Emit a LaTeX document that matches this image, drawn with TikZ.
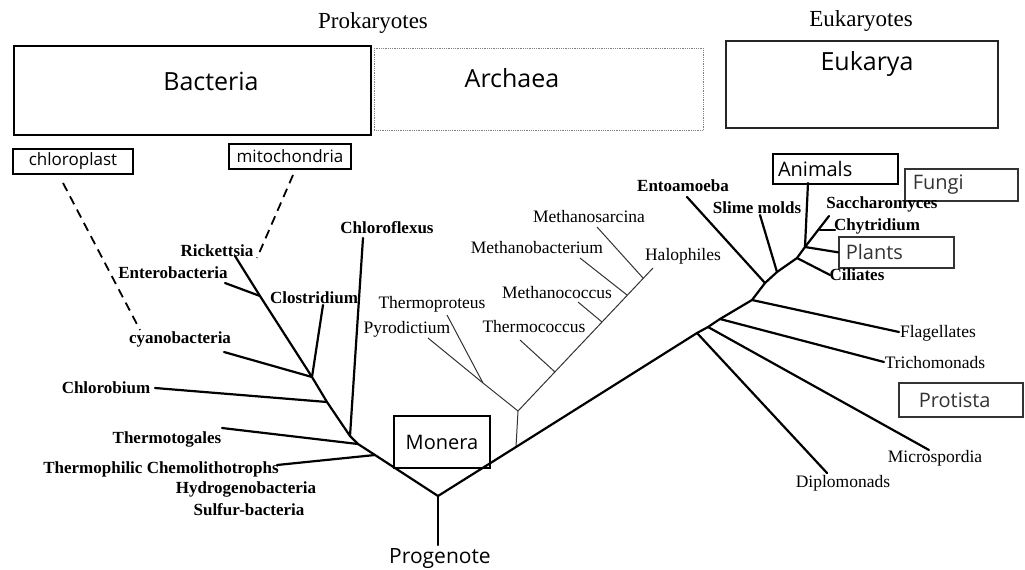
\documentclass[tikz,border=0pt]{standalone}
\usepackage{fontspec}
\setmainfont{Liberation Serif}
\setsansfont{Open Sans}
\usepackage{tikz}

\begin{document}
\begin{tikzpicture}[x=1pt, y=-1pt,
    branch/.style={line width=2.2pt, line cap=round},
    thinbranch/.style={line width=1pt, black!80},
    endo/.style={line width=1.8pt, dash pattern=on 9pt off 6pt},
    boldlabel/.style={font=\fontsize{17}{19}\selectfont\bfseries, anchor=base, inner sep=0pt},
    plainlabel/.style={font=\fontsize{17.5}{19}\selectfont, anchor=base, inner sep=0pt},
    domainbox/.style={draw, anchor=north west, inner sep=0pt},
    domainname/.style={font=\sffamily\fontsize{25}{28}\selectfont, anchor=base, inner sep=0pt},
    taxbox/.style={draw, line width=1.6pt, anchor=north west, inner ysep=0pt, align=left,
        font=\sffamily\fontsize{20}{22}\selectfont}]
    \useasboundingbox (0,0) rectangle (1025,570);

    % Domains
    \node[plainlabel, font=\fontsize{23}{26}\selectfont] (prok) at (373,28) {Prokaryotes};
    \node[plainlabel, font=\fontsize{23}{26}\selectfont] (euk) at (861,26) {Eukaryotes};
    \node[domainbox, line width=2.4pt, minimum width=357pt, minimum height=89pt] (bacteria) at (13,45) {};
    \node[domainbox, line width=0.8pt, gray, densely dotted, minimum width=329pt, minimum height=82pt] (archaea) at (374,48) {};
    \node[domainbox, line width=1.6pt, black!85, minimum width=272pt, minimum height=87pt] (eukarya) at (725,40) {};
    \node[domainname] (bacterianame) at (211,90) {Bacteria};
    \node[domainname] (archaeaname) at (512,87) {Archaea};
    \node[domainname] (eukaryaname) at (867,70) {Eukarya};

    % Endosymbionts
    \node[taxbox, line width=2pt, align=center, inner xsep=0pt, minimum width=120pt, minimum height=25pt,
        font=\sffamily\fontsize{17}{19}\selectfont] (chloroplast) at (12,148) {chloroplast};
    \node[taxbox, line width=2pt, align=center, inner xsep=0pt, minimum width=122pt, minimum height=25pt,
        font=\sffamily\fontsize{17}{19}\selectfont] (mitochondria) at (228,143) {mitochondria};
    \coordinate (chl top) at (63,183);
    \coordinate (chl end) at (140,330);
    \coordinate (mit top) at (293,175);
    \coordinate (mit end) at (257,258);
    \draw[endo] (chl top) -- (chl end);
    \draw[endo] (mit top) -- (mit end);

    % Bacteria
    \coordinate (root) at (438,496);
    \coordinate (jth) at (375,455);
    \coordinate (jtg) at (358,444);
    \coordinate (jcf) at (350,436);
    \coordinate (jcb) at (327,402);
    \coordinate (jcy) at (312,377);
    \coordinate (jen) at (260,296);
    \coordinate (rick tip) at (235,256);
    \coordinate (ther tip) at (277,465);
    \coordinate (tg tip) at (222,428);
    \coordinate (cf tip) at (363,238);
    \coordinate (cb tip) at (155,388);
    \coordinate (cy tip) at (224,352);
    \coordinate (clo tip) at (323,305);
    \coordinate (en tip) at (225,283);
    \draw[branch] (root) -- (jth) -- (jtg) -- (jcf) -- (jcb) -- (jcy) -- (jen) -- (rick tip);
    \draw[branch] (jth) -- (ther tip);
    \draw[branch] (jtg) -- (tg tip);
    \draw[branch] (jcf) -- (cf tip);
    \draw[branch] (jcb) -- (cb tip);
    \draw[branch] (jcy) -- (cy tip);
    \draw[branch] (jcy) -- (clo tip);
    \draw[branch] (jen) -- (en tip);

    \node[boldlabel] (rickettsia) at (217,256) {Rickettsia};
    \node[boldlabel] (enterobacteria) at (173,278) {Enterobacteria};
    \node[boldlabel] (clostridium) at (314,303) {Clostridium};
    \node[boldlabel] (chloroflexus) at (387,233) {Chloroflexus};
    \node[boldlabel] (cyanobacteria) at (180,343) {cyanobacteria};
    \node[boldlabel] (chlorobium) at (106,393) {Chlorobium};
    \node[boldlabel] (thermotogales) at (167,443) {Thermotogales};
    \node[boldlabel] (chemo) at (161,473) {Thermophilic Chemolithotrophs};
    \node[boldlabel] (hydrogeno) at (246,493) {Hydrogenobacteria};
    \node[boldlabel] (sulfur) at (249,515) {Sulfur-bacteria};

    \node[taxbox, line width=2pt, align=center, inner xsep=0pt, minimum width=96pt, minimum height=52pt] (monera) at (393,415) {Monera};
    \node[font=\sffamily\fontsize{21}{24}\selectfont, anchor=north, inner sep=3pt] (progenote) at (440,545) {Progenote};
    \draw[branch] (root) -- (root |- progenote.north);

    % Archaea
    \coordinate (ast) at (516,447);
    \coordinate (aj) at (518,411);
    \coordinate (ajl) at (483,383);
    \coordinate (atc) at (555,372);
    \coordinate (amc) at (602,322);
    \coordinate (amb) at (627,295);
    \coordinate (ams) at (643,278);
    \coordinate (hal tip) at (653,268);
    \coordinate (pyr tip) at (428,338);
    \coordinate (thp tip) at (447,315);
    \coordinate (tc tip) at (520,340);
    \coordinate (mc tip) at (578,302);
    \coordinate (mb tip) at (580,258);
    \coordinate (ms tip) at (597,227);
    \draw[thinbranch] (ast) -- (aj) -- (hal tip);
    \draw[thinbranch] (aj) -- (ajl) -- (pyr tip);
    \draw[thinbranch] (ajl) -- (thp tip);
    \draw[thinbranch] (atc) -- (tc tip);
    \draw[thinbranch] (amc) -- (mc tip);
    \draw[thinbranch] (amb) -- (mb tip);
    \draw[thinbranch] (ams) -- (ms tip);

    \node[plainlabel] (methanosarcina) at (589,222) {Methanosarcina};
    \node[plainlabel] (methanobacterium) at (537,253) {Methanobacterium};
    \node[plainlabel] (halophiles) at (683,260) {Halophiles};
    \node[plainlabel] (methanococcus) at (557,298) {Methanococcus};
    \node[plainlabel] (thermoproteus) at (432,308) {Thermoproteus};
    \node[plainlabel] (pyrodictium) at (407,333) {Pyrodictium};
    \node[plainlabel] (thermococcus) at (534,332) {Thermococcus};

    % Eukarya
    \coordinate (jdip) at (697,333);
    \coordinate (jmic) at (708,327);
    \coordinate (jtri) at (720,319);
    \coordinate (jfla) at (752,300);
    \coordinate (jent) at (765,283);
    \coordinate (jsli) at (777,272);
    \coordinate (jcil) at (797,258);
    \coordinate (jtop) at (805,247);
    \coordinate (dip tip) at (827,473);
    \coordinate (mic tip) at (929,450);
    \coordinate (tri tip) at (884,362);
    \coordinate (fla tip) at (899,332);
    \coordinate (ent tip) at (687,197);
    \coordinate (sli tip) at (760,215);
    \coordinate (cil tip) at (830,275);
    \coordinate (anim stem) at (808,183);
    \coordinate (sac tip) at (829,216);
    \coordinate (chy fork) at (820,230);
    \coordinate (chy tip) at (835,230);
    \draw[branch] (root) -- (ast) -- (jdip) -- (jmic) -- (jtri) -- (jfla) -- (jent) -- (jsli) -- (jcil) -- (jtop);
    \draw[branch] (jdip) -- (dip tip);
    \draw[branch] (jmic) -- (mic tip);
    \draw[branch] (jtri) -- (tri tip);
    \draw[branch] (jfla) -- (fla tip);
    \draw[branch] (jent) -- (ent tip);
    \draw[branch] (jsli) -- (sli tip);
    \draw[branch] (jcil) -- (cil tip);
    \draw[branch] (jtop) -- (anim stem);
    \draw[branch] (jtop) -- (sac tip);
    \draw[branch] (chy fork) -- (chy tip);

    \node[taxbox, line width=2pt, inner xsep=5pt, text width=115pt, minimum height=30pt] (animals) at (772,153) {Animals};
    \node[taxbox, black!80, inner xsep=8pt, text width=97pt, minimum height=32pt] (fungi) at (904,168) {Fungi};
    \node[taxbox, black!80, inner xsep=7pt, text width=101pt, minimum height=31pt] (plants) at (838,236) {Plants};
    \node[taxbox, black!80, inner xsep=20pt, text width=84pt, minimum height=34pt] (protista) at (898,382) {Protista};
    \draw[branch] (jtop) -- (plants.west);

    \node[boldlabel] (entoamoeba) at (683,191) {Entoamoeba};
    \node[boldlabel] (slimemolds) at (757,213) {Slime molds};
    \node[boldlabel] (saccharomyces) at (882,208) {Saccharomyces};
    \node[boldlabel] (chytridium) at (877,230) {Chytridium};
    \node[boldlabel] (ciliates) at (857,280) {Ciliates};
    \node[plainlabel] (flagellates) at (938,337) {Flagellates};
    \node[plainlabel] (trichomonads) at (935,368) {Trichomonads};
    \node[plainlabel] (microspordia) at (935,462) {Microspordia};
    \node[plainlabel] (diplomonads) at (843,487) {Diplomonads};
\end{tikzpicture}
\end{document}
